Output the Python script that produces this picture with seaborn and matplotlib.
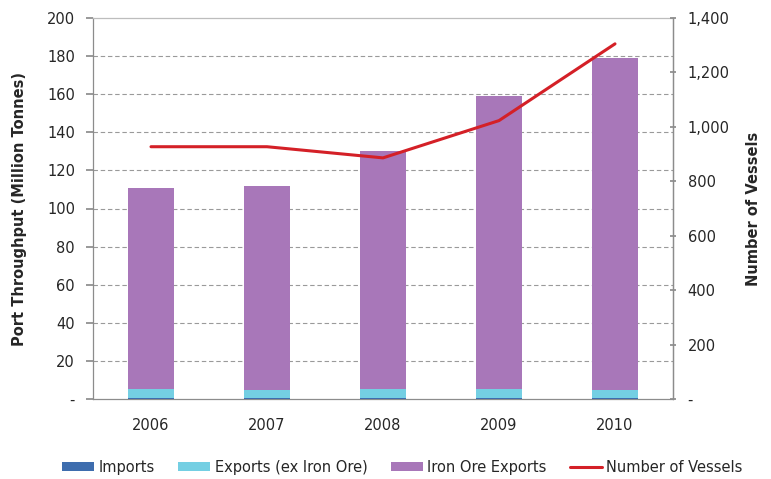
import numpy as np
import pandas as pd
import matplotlib
matplotlib.use("Agg")
import matplotlib.pyplot as plt
import matplotlib.ticker as mticker
from matplotlib.patches import Patch
from matplotlib.lines import Line2D
import seaborn as sns

# Port throughput by year (million tonnes) and vessel calls
years = ["2006", "2007", "2008", "2009", "2010"]
imports = [0.6, 0.6, 0.6, 0.6, 0.6]
exports_ex_iron_ore = [4.8, 4.0, 4.9, 4.9, 3.9]
iron_ore_exports = [105.2, 107.4, 124.8, 153.7, 174.3]
vessels = [927, 927, 886, 1023, 1305]

c_imports = "#3E6DAE"
c_exports = "#74CFE3"
c_iron = "#A877B9"
c_line = "#D42027"
c_axis = "#8C8C8C"

df = pd.DataFrame({
    "year": years,
    "imports": imports,
    "exports": exports_ex_iron_ore,
    "iron": iron_ore_exports,
})
# cumulative heights for stacked layers
df["lvl1"] = df["imports"]
df["lvl2"] = df["lvl1"] + df["exports"]
df["lvl3"] = df["lvl2"] + df["iron"]

sns.set_theme(style="white")
plt.rcParams["font.family"] = ["DejaVu Sans"]
plt.rcParams["font.size"] = 10

fig = plt.figure(figsize=(7.71, 4.79), dpi=100)
ax = fig.add_axes([93 / 771, 80 / 479, 580 / 771, 381 / 479])

# stacked columns drawn back to front
for col, color in [("lvl3", c_iron), ("lvl2", c_exports), ("lvl1", c_imports)]:
    sns.barplot(data=df, x="year", y=col, color=color, width=0.4,
                saturation=1, linewidth=0, edgecolor="none", ax=ax, zorder=3)

ax.set_ylim(0, 200)
ax.set_xlim(-0.5, len(years) - 0.5)
ax.set_yticks(np.arange(0, 201, 20))
ax.yaxis.set_major_formatter(mticker.FuncFormatter(lambda v, p: "-" if v == 0 else f"{v:.0f}"))
ax.set_xlabel("")
ax.set_ylabel("Port Throughput (Million Tonnes)", fontweight="bold", fontsize=10.5, labelpad=14)

for y in np.arange(20, 200, 20):
    ax.axhline(y, color="#9A9A9A", lw=0.8, ls=(0, (4, 2.5)), zorder=1)

for side in ["left", "right", "top", "bottom"]:
    ax.spines[side].set_color(c_axis)
    ax.spines[side].set_linewidth(0.9)
ax.spines["top"].set_color("#BDBDBD")

ax.set_xticks(np.arange(-0.5, len(years), 1.0), minor=True)
ax.tick_params(axis="x", which="major", length=0, pad=14, labelsize=10.5)
ax.tick_params(axis="x", which="minor", length=5, color=c_axis, direction="out")
ax.tick_params(axis="y", length=5, color=c_axis, direction="out", pad=8, labelsize=10.5)

ax2 = ax.twinx()
x_pos = np.arange(len(years))
sns.lineplot(x=x_pos, y=vessels, color=c_line, lw=2.2, ax=ax2, zorder=5)
ax2.set_ylim(0, 1400)
ax2.set_xlim(-0.5, len(years) - 0.5)
ax2.set_yticks(np.arange(0, 1401, 200))
ax2.yaxis.set_major_formatter(mticker.FuncFormatter(lambda v, p: "-" if v == 0 else f"{v:,.0f}"))
ax2.set_ylabel("Number of Vessels", fontweight="bold", fontsize=10.5, labelpad=12)
ax2.tick_params(axis="y", length=5, color=c_axis, direction="inout", pad=8, labelsize=10.5)
for side in ["left", "right", "top", "bottom"]:
    ax2.spines[side].set_visible(False)
ax2.spines["right"].set_visible(True)
ax2.spines["right"].set_color(c_axis)
ax2.spines["right"].set_linewidth(0.9)

handles = [
    Patch(facecolor=c_imports, edgecolor="none", label="Imports"),
    Patch(facecolor=c_exports, edgecolor="none", label="Exports (ex Iron Ore)"),
    Patch(facecolor=c_iron, edgecolor="none", label="Iron Ore Exports"),
    Line2D([0], [0], color=c_line, lw=2.2, label="Number of Vessels"),
]
fig.legend(handles=handles, loc="center", bbox_to_anchor=(0.522, 0.025),
           ncol=4, frameon=False, fontsize=10.5, handlelength=2.2,
           handleheight=0.6, columnspacing=1.6, handletextpad=0.3)

fig.savefig("out.png", dpi=100)
